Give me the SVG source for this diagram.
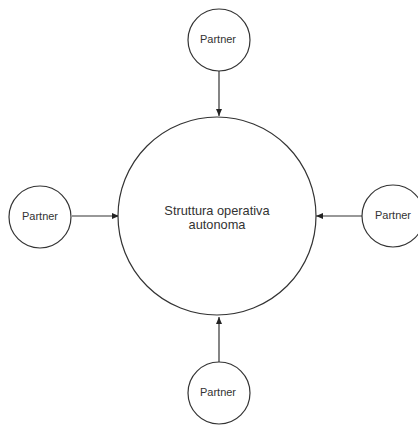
<svg xmlns="http://www.w3.org/2000/svg" width="418" height="425" viewBox="0 0 418 425">
<style>
.n{fill:#fff;stroke:#333;stroke-width:1.2}
.t{font-family:"Liberation Sans",Arial,sans-serif;fill:#333;text-anchor:middle}
.c{stroke:#333;stroke-width:1.2;fill:none;marker-end:url(#a)}
</style>
<defs>
<marker id="a" markerWidth="8" markerHeight="8" refX="7" refY="4" orient="auto" markerUnits="userSpaceOnUse">
<path d="M0,1 L7,4 L0,7 Z" fill="#222"/>
</marker>
</defs>
<rect width="418" height="425" fill="#fff"/>
<g id="connectors">
<line class="c" x1="219" y1="71" x2="219" y2="116"/>
<line class="c" x1="72" y1="216" x2="119" y2="216"/>
<line class="c" x1="362" y1="216" x2="316" y2="216"/>
<line class="c" x1="219" y1="362" x2="219" y2="317"/>
</g>
<g id="center">
<circle class="n" cx="217" cy="216" r="99"/>
<text class="t" font-size="12.8" x="217" y="215">Struttura operativa</text>
<text class="t" font-size="12.8" x="217" y="229">autonoma</text>
</g>
<g id="partner-top">
<circle class="n" cx="219" cy="40" r="31"/>
<text class="t" font-size="11" x="218" y="43">Partner</text>
</g>
<g id="partner-left">
<circle class="n" cx="40" cy="217" r="31"/>
<text class="t" font-size="11" x="40" y="220">Partner</text>
</g>
<g id="partner-right">
<circle class="n" cx="393" cy="216" r="31"/>
<text class="t" font-size="11" x="393" y="219">Partner</text>
</g>
<g id="partner-bottom">
<circle class="n" cx="219" cy="393" r="31"/>
<text class="t" font-size="11" x="218" y="396">Partner</text>
</g>
</svg>
